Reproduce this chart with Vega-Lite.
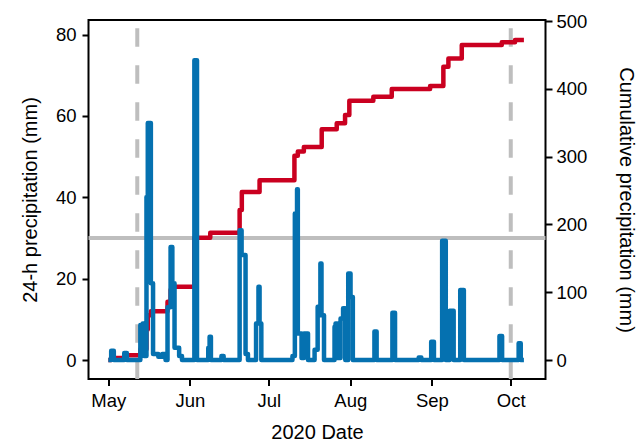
{
  "$schema": "https://vega.github.io/schema/vega-lite/v6.json",
  "width": 457,
  "height": 359,
  "autosize": {"type": "none"},
  "padding": {"left": 88.5, "top": 20, "right": 94.5, "bottom": 62},
  "background": "white",
  "config": {
    "view": {"stroke": "black", "strokeWidth": 2},
    "axis": {
      "grid": false,
      "domain": false,
      "tickColor": "black",
      "tickWidth": 2,
      "tickSize": 6.5,
      "labelFont": "Liberation Sans",
      "labelFontSize": 18.5,
      "labelColor": "black",
      "labelPadding": 6,
      "titleFont": "Liberation Sans",
      "titleFontSize": 20,
      "titleFontWeight": "normal",
      "titleColor": "black"
    }
  },
  "datasets": {
    "markers": [
      {"time": "2020-05-12T00:00"},
      {"time": "2020-10-01T00:00"}
    ],
    "daily24h": [
      {"time": "2020-05-01T00:00", "precip_24h_mm": 0},
      {"time": "2020-05-02T02:00", "precip_24h_mm": 2.3},
      {"time": "2020-05-03T02:00", "precip_24h_mm": 0},
      {"time": "2020-05-07T01:00", "precip_24h_mm": 1.7},
      {"time": "2020-05-08T01:00", "precip_24h_mm": 0},
      {"time": "2020-05-13T04:00", "precip_24h_mm": 8.6},
      {"time": "2020-05-13T16:00", "precip_24h_mm": 2.0},
      {"time": "2020-05-14T02:00", "precip_24h_mm": 9.0},
      {"time": "2020-05-14T14:00", "precip_24h_mm": 1.0},
      {"time": "2020-05-15T12:00", "precip_24h_mm": 40.1},
      {"time": "2020-05-16T00:00", "precip_24h_mm": 58.3},
      {"time": "2020-05-17T04:00", "precip_24h_mm": 18.9},
      {"time": "2020-05-18T00:00", "precip_24h_mm": 1.5},
      {"time": "2020-05-20T00:00", "precip_24h_mm": 0.8},
      {"time": "2020-05-21T12:00", "precip_24h_mm": 1.5},
      {"time": "2020-05-22T18:00", "precip_24h_mm": 0},
      {"time": "2020-05-23T12:00", "precip_24h_mm": 13.0},
      {"time": "2020-05-24T16:00", "precip_24h_mm": 27.8},
      {"time": "2020-05-25T08:00", "precip_24h_mm": 18.9},
      {"time": "2020-05-26T04:00", "precip_24h_mm": 3.0},
      {"time": "2020-05-27T22:00", "precip_24h_mm": 1.0},
      {"time": "2020-05-29T00:00", "precip_24h_mm": 0},
      {"time": "2020-06-02T17:00", "precip_24h_mm": 73.7},
      {"time": "2020-06-03T17:00", "precip_24h_mm": 0},
      {"time": "2020-06-08T00:00", "precip_24h_mm": 3.0},
      {"time": "2020-06-08T12:00", "precip_24h_mm": 5.7},
      {"time": "2020-06-09T00:00", "precip_24h_mm": 0},
      {"time": "2020-06-13T00:00", "precip_24h_mm": 1.0},
      {"time": "2020-06-13T20:00", "precip_24h_mm": 0},
      {"time": "2020-06-19T22:00", "precip_24h_mm": 31.9},
      {"time": "2020-06-20T16:00", "precip_24h_mm": 25.8},
      {"time": "2020-06-22T04:00", "precip_24h_mm": 1.5},
      {"time": "2020-06-23T02:00", "precip_24h_mm": 0},
      {"time": "2020-06-26T04:00", "precip_24h_mm": 9.0},
      {"time": "2020-06-27T02:00", "precip_24h_mm": 18.0},
      {"time": "2020-06-27T12:00", "precip_24h_mm": 9.0},
      {"time": "2020-06-28T04:00", "precip_24h_mm": 0},
      {"time": "2020-07-10T00:00", "precip_24h_mm": 1.0},
      {"time": "2020-07-10T22:00", "precip_24h_mm": 36.0},
      {"time": "2020-07-11T18:00", "precip_24h_mm": 42.0},
      {"time": "2020-07-12T01:00", "precip_24h_mm": 6.5},
      {"time": "2020-07-13T11:00", "precip_24h_mm": 0.5},
      {"time": "2020-07-14T08:00", "precip_24h_mm": 6.5},
      {"time": "2020-07-15T22:00", "precip_24h_mm": 0},
      {"time": "2020-07-18T10:00", "precip_24h_mm": 2.5},
      {"time": "2020-07-19T14:00", "precip_24h_mm": 13.1},
      {"time": "2020-07-20T15:00", "precip_24h_mm": 23.7},
      {"time": "2020-07-21T01:00", "precip_24h_mm": 11.0},
      {"time": "2020-07-22T00:00", "precip_24h_mm": 0},
      {"time": "2020-07-26T00:00", "precip_24h_mm": 8.2},
      {"time": "2020-07-26T09:00", "precip_24h_mm": 9.0},
      {"time": "2020-07-27T02:00", "precip_24h_mm": 0.5},
      {"time": "2020-07-28T07:00", "precip_24h_mm": 10.2},
      {"time": "2020-07-29T06:00", "precip_24h_mm": 12.7},
      {"time": "2020-07-30T02:00", "precip_24h_mm": 0},
      {"time": "2020-07-31T05:00", "precip_24h_mm": 21.3},
      {"time": "2020-08-01T02:00", "precip_24h_mm": 15.5},
      {"time": "2020-08-01T23:00", "precip_24h_mm": 0},
      {"time": "2020-08-10T04:00", "precip_24h_mm": 7.0},
      {"time": "2020-08-11T00:00", "precip_24h_mm": 0},
      {"time": "2020-08-17T00:00", "precip_24h_mm": 11.6},
      {"time": "2020-08-18T00:00", "precip_24h_mm": 0},
      {"time": "2020-08-27T00:00", "precip_24h_mm": 0.6},
      {"time": "2020-08-28T00:00", "precip_24h_mm": 0},
      {"time": "2020-08-31T18:00", "precip_24h_mm": 4.5},
      {"time": "2020-09-01T19:00", "precip_24h_mm": 0},
      {"time": "2020-09-04T22:00", "precip_24h_mm": 29.3},
      {"time": "2020-09-06T07:00", "precip_24h_mm": 0},
      {"time": "2020-09-07T19:00", "precip_24h_mm": 12.1},
      {"time": "2020-09-09T07:00", "precip_24h_mm": 0},
      {"time": "2020-09-11T19:00", "precip_24h_mm": 17.2},
      {"time": "2020-09-13T04:00", "precip_24h_mm": 0},
      {"time": "2020-09-26T17:00", "precip_24h_mm": 5.9},
      {"time": "2020-09-27T17:00", "precip_24h_mm": 0},
      {"time": "2020-10-04T00:00", "precip_24h_mm": 4.1},
      {"time": "2020-10-04T19:00", "precip_24h_mm": 0},
      {"time": "2020-10-06T00:00", "precip_24h_mm": 0}
    ],
    "cumulative": [
      {"time": "2020-05-01T00:00", "cumulative_mm": 0},
      {"time": "2020-05-02T02:00", "cumulative_mm": 3.0},
      {"time": "2020-05-07T01:00", "cumulative_mm": 7.0},
      {"time": "2020-05-13T04:00", "cumulative_mm": 16.0},
      {"time": "2020-05-15T12:00", "cumulative_mm": 45.0},
      {"time": "2020-05-16T00:00", "cumulative_mm": 66.0},
      {"time": "2020-05-17T04:00", "cumulative_mm": 72.1},
      {"time": "2020-05-23T12:00", "cumulative_mm": 86.1},
      {"time": "2020-05-24T16:00", "cumulative_mm": 103.5},
      {"time": "2020-05-25T08:00", "cumulative_mm": 108.2},
      {"time": "2020-06-02T17:00", "cumulative_mm": 180.4},
      {"time": "2020-06-08T18:00", "cumulative_mm": 187.8},
      {"time": "2020-06-19T22:00", "cumulative_mm": 221.2},
      {"time": "2020-06-20T18:00", "cumulative_mm": 247.8},
      {"time": "2020-06-27T12:00", "cumulative_mm": 265.2},
      {"time": "2020-07-10T18:00", "cumulative_mm": 301.5},
      {"time": "2020-07-12T01:00", "cumulative_mm": 307.5},
      {"time": "2020-07-14T08:00", "cumulative_mm": 314.4},
      {"time": "2020-07-21T03:00", "cumulative_mm": 340.3},
      {"time": "2020-07-26T20:00", "cumulative_mm": 349.3},
      {"time": "2020-07-30T00:00", "cumulative_mm": 361.4},
      {"time": "2020-07-31T15:00", "cumulative_mm": 382.5},
      {"time": "2020-08-09T18:00", "cumulative_mm": 388.4},
      {"time": "2020-08-16T18:00", "cumulative_mm": 399.7},
      {"time": "2020-08-31T08:00", "cumulative_mm": 404.2},
      {"time": "2020-09-05T09:00", "cumulative_mm": 432.6},
      {"time": "2020-09-07T07:00", "cumulative_mm": 444.9},
      {"time": "2020-09-12T09:00", "cumulative_mm": 464.6},
      {"time": "2020-09-27T14:00", "cumulative_mm": 468.6},
      {"time": "2020-10-02T15:00", "cumulative_mm": 472.0},
      {"time": "2020-10-06T00:00", "cumulative_mm": 472.0}
    ]
  },
  "layer": [
    {
      "data": {"name": "markers"},
      "mark": {"type": "rule", "color": "#bebebe", "strokeWidth": 4, "strokeDash": [18.5, 18.5], "strokeDashOffset": 28.7},
      "encoding": {
        "x": {
          "field": "time", "type": "temporal",
          "scale": {"domain": [{"year": 2020, "month": 4, "date": 23, "hours": 11}, {"year": 2020, "month": 10, "date": 14, "hours": 5}], "nice": false},
          "axis": {"title": "2020 Date", "format": "%b", "titlePadding": 12,
            "values": [{"year": 2020, "month": 5, "date": 1}, {"year": 2020, "month": 6, "date": 1}, {"year": 2020, "month": 7, "date": 1}, {"year": 2020, "month": 8, "date": 1}, {"year": 2020, "month": 9, "date": 1}, {"year": 2020, "month": 10, "date": 1}]}
        }
      }
    },
    {
      "data": {"values": [{"threshold_mm": 30}]},
      "mark": {"type": "rule", "color": "#bebebe", "strokeWidth": 4},
      "encoding": {
        "y": {"field": "threshold_mm", "type": "quantitative", "scale": {"domain": [-4.67, 83.6], "nice": false, "zero": false}, "axis": null}
      }
    },
    {
      "data": {"name": "cumulative"},
      "mark": {"type": "line", "interpolate": "step-after", "color": "#ca0020", "strokeWidth": 4.5, "strokeJoin": "round"},
      "encoding": {
        "x": {
          "field": "time", "type": "temporal",
          "scale": {"domain": [{"year": 2020, "month": 4, "date": 23, "hours": 11}, {"year": 2020, "month": 10, "date": 14, "hours": 5}], "nice": false},
          "axis": {"title": "2020 Date", "format": "%b", "titlePadding": 12,
            "values": [{"year": 2020, "month": 5, "date": 1}, {"year": 2020, "month": 6, "date": 1}, {"year": 2020, "month": 7, "date": 1}, {"year": 2020, "month": 8, "date": 1}, {"year": 2020, "month": 9, "date": 1}, {"year": 2020, "month": 10, "date": 1}]}
        },
        "y": {
          "field": "cumulative_mm", "type": "quantitative",
          "scale": {"domain": [-28, 501.6], "nice": false, "zero": false},
          "axis": {"orient": "right", "title": "Cumulative precipitation (mm)", "values": [0, 100, 200, 300, 400, 500], "labelPadding": 4, "titlePadding": 29}
        }
      }
    },
    {
      "data": {"name": "daily24h"},
      "mark": {"type": "line", "interpolate": "step-after", "color": "#0571b0", "strokeWidth": 4.5, "strokeJoin": "round"},
      "encoding": {
        "x": {
          "field": "time", "type": "temporal",
          "scale": {"domain": [{"year": 2020, "month": 4, "date": 23, "hours": 11}, {"year": 2020, "month": 10, "date": 14, "hours": 5}], "nice": false},
          "axis": {"title": "2020 Date", "format": "%b", "titlePadding": 12,
            "values": [{"year": 2020, "month": 5, "date": 1}, {"year": 2020, "month": 6, "date": 1}, {"year": 2020, "month": 7, "date": 1}, {"year": 2020, "month": 8, "date": 1}, {"year": 2020, "month": 9, "date": 1}, {"year": 2020, "month": 10, "date": 1}]}
        },
        "y": {
          "field": "precip_24h_mm", "type": "quantitative",
          "scale": {"domain": [-4.67, 83.6], "nice": false, "zero": false},
          "axis": {"orient": "left", "title": "24-h precipitation (mm)", "values": [0, 20, 40, 60, 80], "titlePadding": 15}
        }
      }
    }
  ],
  "resolve": {"scale": {"y": "independent"}}
}
